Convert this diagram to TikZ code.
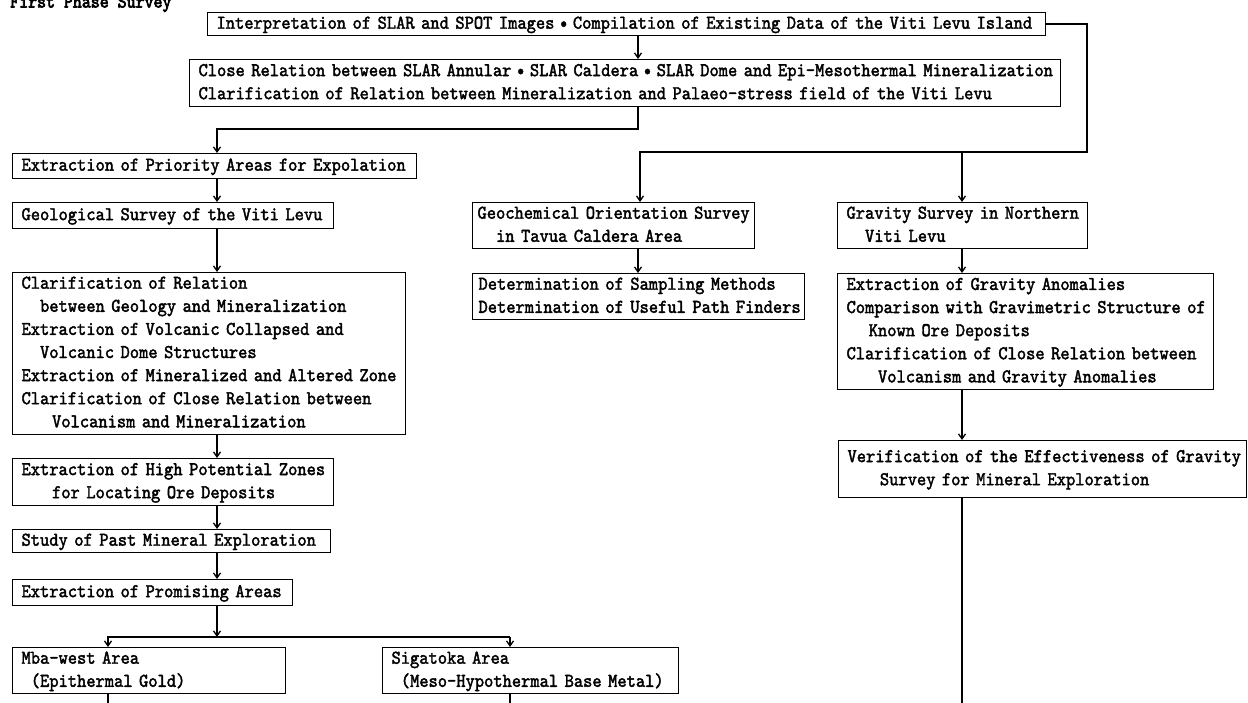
\documentclass[tikz,border=0pt]{standalone}
\usepackage{fontspec}
\usetikzlibrary{arrows.meta}
\newfontfamily\monofam{lmmono10-regular.otf}[FakeStretch=0.904,FakeBold=2]
\newfontfamily\titlefam{lmmono10-regular.otf}[FakeStretch=0.875,FakeBold=3.5]
\newcommand\mono{\fontsize{19.5}{23.1}\selectfont\monofam}
\newlength\cw
\settowidth\cw{\mono 0}
\newcommand\ind[1]{\hspace*{#1\cw}}
\newcommand\dsep{\makebox[2\cw]{•}}
\begin{document}
\begin{tikzpicture}[x=1pt,y=-1pt,
  box/.style={draw, line width=1.1pt, anchor=north west, align=left,
    inner xsep=9pt, inner ysep=0pt, font=\mono,
    execute at begin node=\strut, execute at end node=\strut},
  conn/.style={line width=1.3pt},
  arr/.style={conn, -{Straight Barb[length=5pt,width=7pt]}}]
\useasboundingbox (0,0) rectangle (1248,703);

\node[font=\fontsize{19.5}{23}\selectfont\titlefam, anchor=base west, inner sep=0] (title) at (10,7.5) {First Phase Survey};

% boxes
\node[box, text width=820pt, minimum height=22pt] (T) at (207,12)
  {\mbox{Interpretation of SLAR and SPOT Images\dsep Compilation of Existing Data of the Viti Levu Island}};
\node[box, text width=853pt, minimum height=47pt] (B2) at (189,59)
  {\mbox{Close Relation between SLAR Annular\dsep SLAR Caldera\dsep SLAR Dome and Epi-Mesothermal Mineralization}\\
   \mbox{Clarification of Relation between Mineralization and Palaeo-stress field of the Viti Levu}};
\node[box, text width=386pt, minimum height=25pt] (P) at (12,153)
  {\mbox{Extraction of Priority Areas for Expolation}};
\node[box, text width=303pt, minimum height=26pt] (G) at (12,202)
  {\mbox{Geological Survey of the Viti Levu}};
\node[box, text width=375pt, minimum height=161pt] (C) at (12,272)
  {\mbox{Clarification of Relation}\\
   \mbox{\ind{2}between Geology and Mineralization}\\
   \mbox{Extraction of Volcanic Collapsed and}\\
   \mbox{\ind{2}Volcanic Dome Structures}\\
   \mbox{Extraction of Mineralized and Altered Zone}\\
   \mbox{Clarification of Close Relation between}\\
   \mbox{\ind{3.3}Volcanism and Mineralization}};
\node[box, text width=303pt, minimum height=47pt] (H) at (12,458)
  {\mbox{Extraction of High Potential Zones}\\
   \mbox{\ind{3.3}for Locating Ore Deposits}};
\node[box, text width=300pt, minimum height=22pt] (S) at (12,529)
  {\mbox{Study of Past Mineral Exploration}};
\node[box, text width=262pt, minimum height=26pt] (Pr) at (12,579)
  {\mbox{Extraction of Promising Areas}};
\node[box, text width=255pt, minimum height=45pt] (M) at (12,647)
  {\mbox{Mba-west Area}\\
   \mbox{\ind{1}(Epithermal Gold)}};
\node[box, text width=278pt, minimum height=45pt] (Sg) at (382,647)
  {\mbox{Sigatoka Area}\\
   \mbox{\ind{1}(Meso-Hypothermal Base Metal)}};
\node[box, inner xsep=5pt, text width=272pt, minimum height=46pt] (Gc) at (472,202)
  {\mbox{Geochemical Orientation Survey}\\
   \mbox{\ind{2}in Tavua Caldera Area}};
\node[box, inner xsep=6pt, text width=320pt, minimum height=45pt] (D) at (472,273)
  {\mbox{Determination of Sampling Methods}\\
   \mbox{Determination of Useful Path Finders}};
\node[box, text width=232pt, minimum height=45pt] (Gr) at (837,202)
  {\mbox{Gravity Survey in Northern}\\
   \mbox{\ind{2}Viti Levu}};
\node[box, text width=358pt, minimum height=116pt] (A) at (837,273)
  {\mbox{Extraction of Gravity Anomalies}\\
   \mbox{Comparison with Gravimetric Structure of}\\
   \mbox{\ind{2.4}Known Ore Deposits}\\
   \mbox{Clarification of Close Relation between}\\
   \mbox{\ind{3.4}Volcanism and Gravity Anomalies}};
\node[box, text width=390pt, minimum height=57pt] (V) at (838,440)
  {\mbox{Verification of the Effectiveness of Gravity}\\
   \mbox{\ind{3.5}Survey for Mineral Exploration}};

% column coordinates
\coordinate (cL) at (217,0);
\coordinate (cM) at (638,0);
\coordinate (cR) at (962,0);
\coordinate (k1) at (638,129);
\coordinate (k2) at (1087,152);
\coordinate (k3) at (640,152);
\coordinate (k4) at (962,152);
\coordinate (k5) at (217,637);
\coordinate (k6) at (108,637);
\coordinate (k7) at (510,637);
\coordinate (b1) at (108,703);
\coordinate (b2) at (510,703);
\coordinate (b3) at (962,703);

% connectors
\draw[arr] (T.south -| cM) -- (B2.north -| cM);
\draw[arr] (B2.south -| cM) -- (k1) -| (P.north -| cL);
\draw[arr] (T.east) -| (k2) -- (k3) -- (Gc.north -| k3);
\draw[arr] (k4) -- (Gr.north -| k4);
\draw[arr] (P.south -| cL) -- (G.north -| cL);
\draw[arr] (G.south -| cL) -- (C.north -| cL);
\draw[arr] (C.south -| cL) -- (H.north -| cL);
\draw[arr] (H.south -| cL) -- (S.north -| cL);
\draw[arr] (S.south -| cL) -- (Pr.north -| cL);
\draw[arr] (Pr.south -| cL) -- (k5);
\draw[arr] (k7) -| (M.north -| k6);
\draw[arr] (k7) -- (Sg.north -| k7);
\draw[conn] (M.south -| b1) -- (b1);
\draw[conn] (Sg.south -| b2) -- (b2);
\draw[arr] (Gc.south -| cM) -- (D.north -| cM);
\draw[arr] (Gr.south -| cR) -- (A.north -| cR);
\draw[arr] (A.south -| cR) -- (V.north -| cR);
\draw[conn] (V.south -| cR) -- (b3);
\end{tikzpicture}
\end{document}
